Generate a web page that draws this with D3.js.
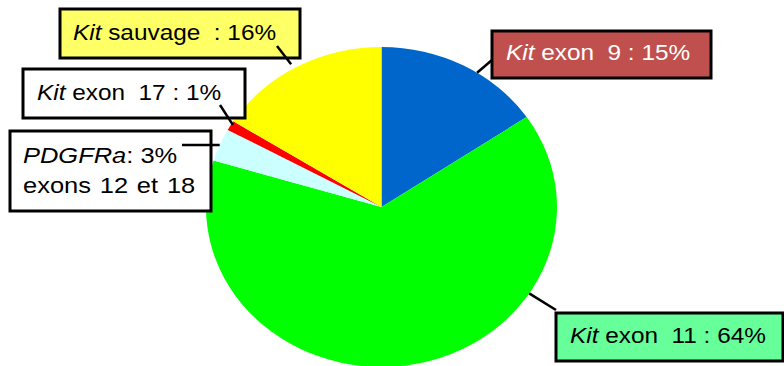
<!DOCTYPE html>
<html>
<head>
<meta charset="utf-8">
<script src="https://cdn.jsdelivr.net/npm/d3@7"></script>
<style>
  html, body { margin: 0; padding: 0; background: #fff; }
  svg { display: block; }
  text { font-family: "Liberation Sans", Arial, sans-serif; font-size: 22px; white-space: pre; }
</style>
</head>
<body>
<svg id="chart" width="784" height="366"></svg>
<script>
// Mutation categories (clockwise from 12 o'clock)
const categories = ["Kit exon 9", "Kit exon 11", "PDGFRa exons 12 et 18", "Kit exon 17", "Kit sauvage"];
const values = [15.5, 64.2, 3.3, 1.0, 16.0];
const sliceColors = ["#0066CC", "#00FF00", "#CCFFFF", "#FF0000", "#FFFF00"];

// Callout texts: [italic part, plain part] per line
const labelLines = [
  [["Kit", " exon  9 : 15%"]],
  [["Kit", " exon  11 : 64%"]],
  [["PDGFRa", ": 3%"], ["", "exons 12 et 18"]],
  [["Kit", " exon  17 : 1%"]],
  [["Kit", " sauvage  : 16%"]]
];

// Callout layout: box, text origin, leader angle (deg, clockwise from north), leader box end
const callouts = [
  { box: [492, 31, 219, 47], tx: 506, ty: 60, fill: "#C0504D", color: "#FFFFFF", ang: 33, rf: 1.0, end: [492, 60] },
  { box: [556, 313, 227, 48], tx: 570, ty: 343, fill: "#66FF99", color: "#000000", ang: 122.7, rf: 1.0, end: [556, 310] },
  { box: [10, 131, 201, 80], tx: 23, ty: 163, fill: "#FFFFFF", color: "#000000", ang: 292.8, rf: 1.0, end: [182, 145], dy: 30, sx: 1.045, ws: 1.5 },
  { box: [23, 69, 222, 49], tx: 37, ty: 100, fill: "#FFFFFF", color: "#000000", ang: 301.2, rf: 0.99, end: [220, 105] },
  { box: [60, 9, 240, 49], tx: 73, ty: 40, fill: "#FFFF66", color: "#000000", ang: 330, rf: 1.03, end: [277, 46] }
];

const svg = d3.select("#chart");
const cx = 381.5, cy = 207, rx = 175.5, ry = 160;
const stretch = rx / ry; // horizontal stretch shared by pie and callout text

const pie = d3.pie().sort(null).value(d => d)(values);
const arc = d3.arc().innerRadius(0).outerRadius(ry);

// Pie is stretched horizontally into an ellipse
const pieG = svg.append("g")
  .attr("transform", `translate(${cx},${cy}) scale(${stretch},1)`);

pieG.selectAll("path")
  .data(pie)
  .join("path")
  .attr("d", arc)
  .attr("fill", (d, i) => sliceColors[i]);

// Callout boxes and leader lines
const labelG = svg.append("g");
callouts.forEach((c, i) => {
  const g = labelG.append("g");
  g.append("rect")
    .attr("x", c.box[0]).attr("y", c.box[1])
    .attr("width", c.box[2]).attr("height", c.box[3])
    .attr("fill", c.fill)
    .attr("stroke", "#000").attr("stroke-width", 3);

  labelLines[i].forEach((line, li) => {
    const t = g.append("text")
      .attr("transform", `translate(${c.tx},${c.ty + li * (c.dy || 0)}) scale(${stretch * 1.01 * (c.sx || 1)},1)`)
      .attr("word-spacing", li > 0 ? (c.ws || 0) : 0)
      .attr("fill", c.color);
    if (line[0]) t.append("tspan").attr("font-style", "italic").text(line[0]);
    t.append("tspan").text(line[1]);
  });

  const a = c.ang * Math.PI / 180;
  const px = cx + Math.sin(a) * rx * c.rf;
  const py = cy - Math.cos(a) * ry * c.rf;
  g.append("line")
    .attr("x1", px).attr("y1", py)
    .attr("x2", c.end[0]).attr("y2", c.end[1])
    .attr("stroke", "#000").attr("stroke-width", 2.5);
});
</script>
</body>
</html>
